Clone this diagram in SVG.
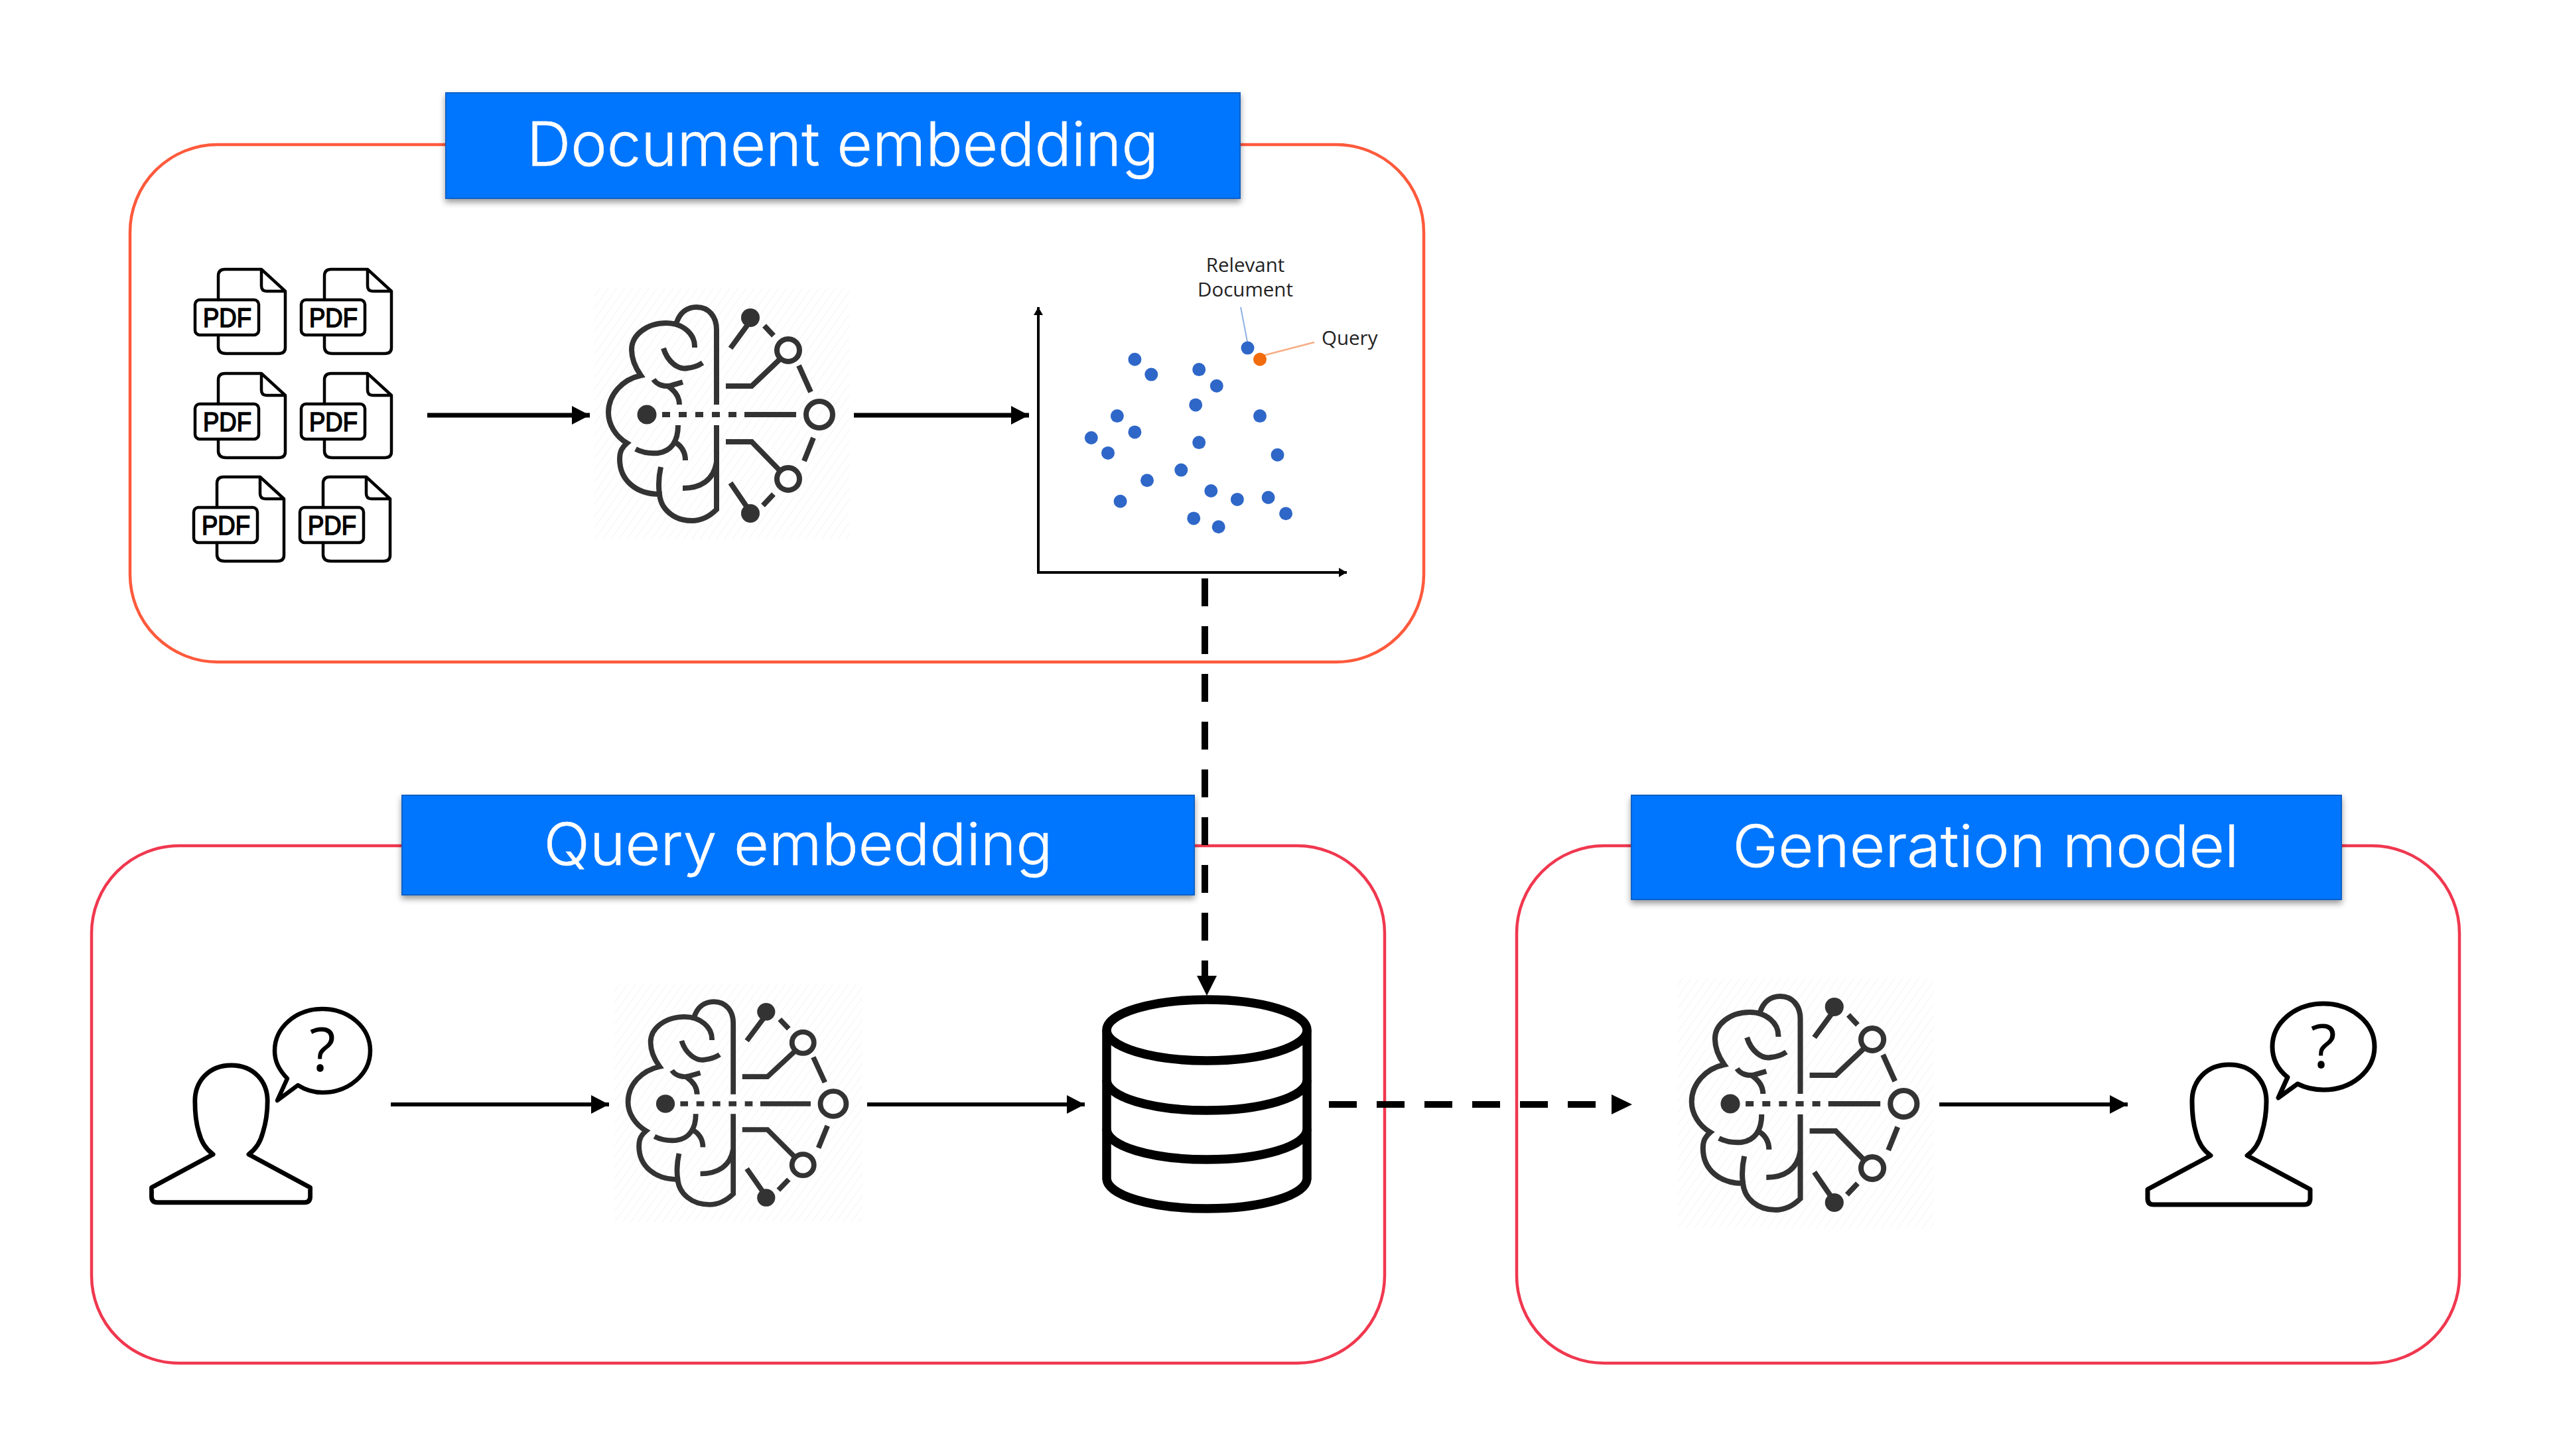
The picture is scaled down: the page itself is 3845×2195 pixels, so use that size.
<svg xmlns="http://www.w3.org/2000/svg" xmlns:xlink="http://www.w3.org/1999/xlink" width="3845" height="2195" viewBox="0 0 3845 2195">
<style>
.panel{fill:none;stroke-width:4.5}
.head{fill:#0076ff;stroke:#0a60c8;stroke-width:2;filter:url(#sh)}
.title{font-family:"Inter","Liberation Sans",sans-serif;font-weight:300;fill:#fff;stroke:#fff;stroke-width:.6px;text-anchor:middle}
.k{fill:none;stroke:#000;stroke-linejoin:round;stroke-linecap:round}
.pdf{font-family:"Liberation Sans",sans-serif;font-size:40px;font-weight:400;fill:#000;stroke:#000;stroke-width:1.6px}
.b{fill:none;stroke:#333;stroke-width:8}
.f{fill:#333}
.sm{font-family:"Open Sans","Liberation Sans",sans-serif;font-size:29.5px;fill:#222}
.q{font-family:"Open Sans","Liberation Sans",sans-serif;font-size:92px;font-weight:500;fill:#000;text-anchor:middle}
.pt{fill:#2f67c8}
.arrow{stroke:#000;fill:none}
</style>
<defs>
<filter id="sh" x="-5%" y="-10%" width="110%" height="130%"><feDropShadow dx="0" dy="5" stdDeviation="5" flood-color="#000" flood-opacity=".4"/></filter>
<pattern id="hatch" width="10" height="10" patternUnits="userSpaceOnUse" patternTransform="rotate(35)"><line x1="0" y1="0" x2="0" y2="10" stroke="#f4f4f4" stroke-width="2"/></pattern>
<marker id="ah" markerUnits="userSpaceOnUse" markerWidth="30" markerHeight="30" refX="27" refY="14" orient="auto"><path d="M0 0L27 14L0 28Z"/></marker>
<marker id="as" markerUnits="userSpaceOnUse" markerWidth="14" markerHeight="16" refX="12" refY="7" orient="auto"><path d="M0 0L12 7L0 14Z"/></marker>
<g id="pdfIcon">
<path class="k" stroke-width="4.5" d="M35 46V10Q35 0 45 0H100L136 33V118Q136 127 126 127H47Q35 127 35 117V99M100 0V25Q100 33 108 33H136"/>
<rect class="k" stroke-width="4.5" x="0" y="46" width="96" height="53" rx="7"/>
<text class="pdf" x="12" y="87" textLength="73" lengthAdjust="spacingAndGlyphs">PDF</text>
</g>
<g id="brain">
<rect x="896" y="435" width="384" height="378" fill="url(#hatch)"/>
<path class="b" d="M1019 489C1024 471 1036 463 1050 463C1068 463 1080 477 1080 497V610M1080 641V768C1070 778 1058 785 1043 785C1016 785 996 768 994 745C960 745 934 725 934 692C934 680 938 674 945 668C928 658 917 640 917 622C917 595 938 572 966 566C956 552 952 540 952 527C952 505 975 487 1004 487C1030 487 1047 504 1047 522V524"/>
<path class="b" d="M1000 525C1006 545 1022 558 1036 555C1046 554 1053 551 1059 547M985 572C990 580 1002 584 1012 581L1029 576M1008 583C1018 590 1024 598 1024 610M1022 641C1022 665 1012 680 992 683C980 684 968 682 958 677M1015 665C1028 672 1033 682 1033 694M996 704C992 722 993 738 994 745M1029 736C1055 736 1075 725 1080 697"/>
<path class="b" d="M998 625H1112" stroke-dasharray="12 13"/>
<path class="b" d="M1122 625H1200M1131 484L1101 525M1152 491L1166 506M1175 542L1133 582H1094M1204 551L1222 591M1094 666H1133L1175 709M1226 660L1212 695M1101 728L1131 772M1166 745L1150 762"/>
<circle class="f" cx="975" cy="625" r="14.5"/><circle class="f" cx="1131" cy="479" r="14"/><circle class="f" cx="1131" cy="774" r="14"/>
<circle class="b" cx="1235" cy="625" r="20" stroke-width="9"/><circle class="b" cx="1188" cy="528" r="17"/><circle class="b" cx="1188" cy="722" r="17"/>
</g>
<path id="body" class="k" d="M3360 1605C3325 1605 3304 1630 3304 1660C3304 1680 3306 1695 3310 1708C3314 1724 3322 1735 3332 1742L3237 1793V1807Q3237 1816 3246 1816H3473Q3482 1816 3482 1807V1793L3387 1742C3397 1735 3405 1724 3409 1708C3413 1695 3416 1680 3416 1660C3416 1630 3395 1605 3360 1605Z"/>
</defs>
<rect width="3845" height="2195" fill="#fff"/>

<g id="panel-document"><rect class="panel" stroke="#ff5a3c" x="196" y="218" width="1950" height="780" rx="132"/></g>
<g id="panel-query"><rect class="panel" stroke="#f0384f" x="138" y="1275" width="1949" height="780" rx="132"/></g>
<g id="panel-generation"><rect class="panel" stroke="#f0384f" x="2286" y="1275" width="1421" height="780" rx="132"/></g>

<g id="header-document"><rect class="head" x="672" y="140" width="1197" height="159"/><text class="title" x="1270" y="250" font-size="92" textLength="952" lengthAdjust="spacingAndGlyphs">Document embedding</text></g>
<g id="header-query"><rect class="head" x="606" y="1199" width="1194" height="150"/><text class="title" x="1203" y="1304" font-size="88" textLength="767" lengthAdjust="spacingAndGlyphs">Query embedding</text></g>
<g id="header-generation"><rect class="head" x="2459" y="1199" width="1070" height="157"/><text class="title" x="2993" y="1307" font-size="88" textLength="763" lengthAdjust="spacingAndGlyphs">Generation model</text></g>

<g id="pdfs">
<use xlink:href="#pdfIcon" href="#pdfIcon" x="294" y="406"/>
<use xlink:href="#pdfIcon" href="#pdfIcon" x="454" y="406"/>
<use xlink:href="#pdfIcon" href="#pdfIcon" x="294" y="563"/>
<use xlink:href="#pdfIcon" href="#pdfIcon" x="454" y="563"/>
<use xlink:href="#pdfIcon" href="#pdfIcon" x="292" y="719"/>
<use xlink:href="#pdfIcon" href="#pdfIcon" x="452" y="719"/>
</g>
<g id="brain-document"><use xlink:href="#brain" href="#brain"/></g>
<g id="brain-query"><use xlink:href="#brain" href="#brain" transform="translate(1003 1664) scale(.973 .95) translate(-975 -625)"/></g>
<g id="brain-generation"><use xlink:href="#brain" href="#brain" transform="translate(2608 1664) scale(1.005 1) translate(-975 -625)"/></g>

<g id="scatter">
<path class="arrow" stroke-width="4" d="M1565 863V463" marker-end="url(#as)"/>
<path class="arrow" stroke-width="4" d="M1563 863H2030" marker-end="url(#as)"/>
<path d="M1870 463L1880 515" stroke="#8fb0e4" stroke-width="2" fill="none"/>
<path d="M1904 536L1981 516" stroke="#f6ad84" stroke-width="2.5" fill="none"/>
<g class="pt">
<circle cx="1710.4" cy="541.8" r="10"/><circle cx="1735.3" cy="564.6" r="10"/><circle cx="1807.2" cy="557.1" r="10"/><circle cx="1833.8" cy="581.8" r="10"/><circle cx="1802.2" cy="610.4" r="10"/><circle cx="1683.9" cy="627.1" r="10"/><circle cx="1710.4" cy="651.4" r="10"/><circle cx="1644.8" cy="660" r="10"/><circle cx="1670" cy="682.9" r="10"/><circle cx="1807.2" cy="667.1" r="10"/><circle cx="1899" cy="627.1" r="10"/><circle cx="1925.5" cy="685.7" r="10"/><circle cx="1780.3" cy="708.6" r="10"/><circle cx="1729" cy="724.3" r="10"/><circle cx="1825.3" cy="740" r="10"/><circle cx="1864.9" cy="752.9" r="10"/><circle cx="1911.6" cy="750" r="10"/><circle cx="1938.1" cy="774.3" r="10"/><circle cx="1688.6" cy="755.7" r="10"/><circle cx="1799.2" cy="781.4" r="10"/><circle cx="1836.7" cy="794.3" r="10"/><circle cx="1880.5" cy="524.6" r="10"/>
</g>
<circle cx="1899" cy="541.8" r="10" fill="#f26c0d"/>
<text class="sm" x="1877" y="410" text-anchor="middle">Relevant</text>
<text class="sm" x="1877" y="447" text-anchor="middle">Document</text>
<text class="sm" x="1992" y="520">Query</text>
</g>

<g id="database" fill="none" stroke="#000" stroke-width="13.5">
<ellipse cx="1819" cy="1553" rx="151" ry="46"/>
<path d="M1668 1553V1776C1668 1802 1736 1822 1819 1822C1902 1822 1970 1802 1970 1776V1553"/>
<path d="M1668 1628C1668 1654 1736 1674 1819 1674C1902 1674 1970 1654 1970 1628M1668 1702C1668 1728 1736 1748 1819 1748C1902 1748 1970 1728 1970 1702"/>
</g>

<g id="person-query">
<use xlink:href="#body" href="#body" stroke-width="7" transform="translate(348.5 1606) scale(.976 .98) translate(-3360 -1605)"/>
<path class="k" stroke-width="6.5" fill="none" d="M433 1626C420 1612 414 1600 414 1584C414 1549 446 1521 486 1521C526 1521 558 1549 558 1584C558 1619 526 1647 486 1647C473 1647 460 1643 449 1636L418 1659Z"/>
<text class="q" x="486" y="1615">?</text>
</g>
<g id="person-generation">
<use xlink:href="#body" href="#body" stroke-width="7"/>
<path class="k" stroke-width="7" fill="none" d="M3448 1624C3433 1612 3425 1596 3425 1578C3425 1542 3459 1513 3502 1513C3545 1513 3579 1542 3579 1578C3579 1614 3545 1643 3502 1643C3488 1643 3475 1640 3463 1634L3434 1655Z"/>
<text class="q" x="3502" y="1610">?</text>
</g>

<g id="connectors">
<path class="arrow" stroke-width="7" d="M644 626H889" marker-end="url(#ah)"/>
<path class="arrow" stroke-width="7" d="M1287 626H1551" marker-end="url(#ah)"/>
<path class="arrow" stroke-width="6" d="M589 1665H918" marker-end="url(#ah)"/>
<path class="arrow" stroke-width="6" d="M1307 1665H1635" marker-end="url(#ah)"/>
<path class="arrow" stroke-width="6" d="M2923 1665H3207" marker-end="url(#ah)"/>
<path class="arrow" stroke-width="10" stroke-dasharray="42 30" d="M1816 872V1471"/>
<path d="M1804 1471H1834L1819 1501Z"/>
<path class="arrow" stroke-width="10" stroke-dasharray="42 30" d="M2003 1665H2406"/>
<path d="M2429 1650L2460 1665L2429 1680Z"/>
</g>
</svg>
